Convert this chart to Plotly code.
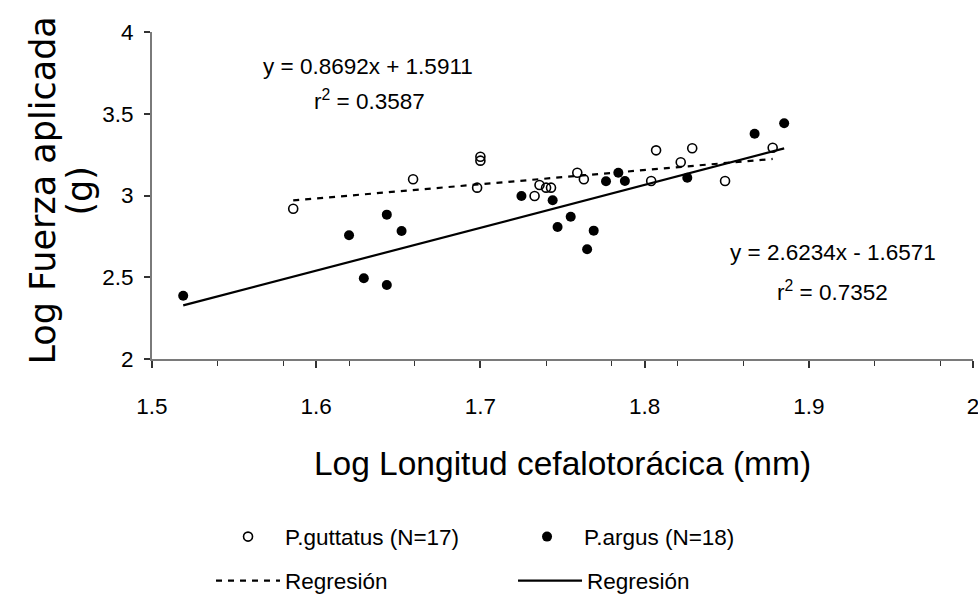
import plotly.graph_objects as go

# ---------------- data ----------------
gut_x = [1.586, 1.659, 1.698, 1.700, 1.700, 1.733, 1.736, 1.740, 1.743,
         1.759, 1.763, 1.804, 1.807, 1.822, 1.829, 1.849, 1.878]
gut_y = [2.919, 3.099, 3.048, 3.237, 3.213, 2.997, 3.064, 3.048, 3.048,
         3.139, 3.099, 3.089, 3.276, 3.203, 3.289, 3.089, 3.292]

arg_x = [1.519, 1.620, 1.629, 1.643, 1.643, 1.652, 1.725, 1.744, 1.747,
         1.755, 1.765, 1.769, 1.7765, 1.784, 1.788, 1.826, 1.867, 1.885]
arg_y = [2.387, 2.757, 2.494, 2.883, 2.453, 2.783, 2.997, 2.971, 2.807,
         2.870, 2.671, 2.785, 3.087, 3.139, 3.089, 3.109, 3.378, 3.442]

gut_slope, gut_intercept, gut_r2 = 0.8692, 1.5911, 0.3587
arg_slope, arg_intercept, arg_r2 = 2.6234, -1.6571, 0.7352

gut_name = "P.guttatus (N=17)"
arg_name = "P.argus (N=18)"
reg_name = "Regresión"

x_ticks = [1.5, 1.6, 1.7, 1.8, 1.9, 2.0]
x_tick_labels = ["1.5", "1.6", "1.7", "1.8", "1.9", "2"]
y_ticks = [2, 2.5, 3, 3.5, 4]
y_tick_labels = ["2", "2.5", "3", "3.5", "4"]

x_title = "Log Longitud cefalotorácica (mm)"
y_title_1 = "Log Fuerza aplicada"
y_title_2 = "(g)"

# ---------------- styling ----------------
SANS = "Liberation Sans, Arial, sans-serif"
WIDE = "DejaVu Sans, Liberation Sans, Arial, sans-serif"
FS = 22.5

gut_line_x = [min(gut_x), max(gut_x)]
gut_line_y = [gut_slope * v + gut_intercept for v in gut_line_x]
arg_line_x = [min(arg_x), max(arg_x)]
arg_line_y = [arg_slope * v + arg_intercept for v in arg_line_x]

fig = go.Figure()

fig.add_trace(go.Scatter(
    x=gut_line_x, y=gut_line_y, mode="lines", name=reg_name,
    line=dict(color="black", width=2.2, dash="6px,6px"),
    legend="legend2", showlegend=True, hoverinfo="skip"))
fig.add_trace(go.Scatter(
    x=arg_line_x, y=arg_line_y, mode="lines", name=reg_name,
    line=dict(color="black", width=2.2),
    legend="legend2", showlegend=True, hoverinfo="skip"))

fig.add_trace(go.Scatter(
    x=gut_x, y=gut_y, mode="markers", name=gut_name,
    marker=dict(symbol="circle-open", size=9, color="black",
                line=dict(width=1.6, color="black")),
    legend="legend"))
fig.add_trace(go.Scatter(
    x=arg_x, y=arg_y, mode="markers", name=arg_name,
    marker=dict(symbol="circle", size=10, color="black"),
    legend="legend"))

fig.update_layout(
    width=978, height=598,
    margin=dict(l=152, r=5, t=32, b=239, autoexpand=False),
    paper_bgcolor="white", plot_bgcolor="white",
    font=dict(family=SANS, size=FS, color="black"),
    legend=dict(
        orientation="h", x=0.0719, xanchor="left", y=-0.5443, yanchor="middle",
        itemwidth=64, entrywidth=220, entrywidthmode="pixels",
        font=dict(family=SANS, size=FS), bgcolor="rgba(0,0,0,0)",
        traceorder="normal"),
    legend2=dict(
        orientation="h", x=0.0719, xanchor="left", y=-0.679, yanchor="middle",
        itemwidth=64, entrywidth=223, entrywidthmode="pixels",
        font=dict(family=SANS, size=FS), bgcolor="rgba(0,0,0,0)",
        traceorder="normal"),
)

fig.update_xaxes(
    range=[1.5, 2.0], tickvals=x_ticks, ticktext=x_tick_labels,
    automargin=False,
    showgrid=False, zeroline=False,
    showline=True, linecolor="#7a7a7a", linewidth=2,
    ticks="outside", ticklen=7, tickwidth=1.5, tickcolor="#333333",
    minor=dict(tick0=1.5, dtick=0.04, ticks="outside", ticklen=5,
               tickwidth=1.2, tickcolor="#333333", showgrid=False),
    ticklabelstandoff=19, ticklabeloverflow="allow",
    tickfont=dict(family=SANS, size=FS),
    title=dict(text=x_title, font=dict(family=SANS, size=33.5), standoff=34),
)
fig.update_yaxes(
    range=[2, 4], tickvals=y_ticks, ticktext=y_tick_labels,
    automargin=False,
    showgrid=False, zeroline=False,
    showline=True, linecolor="#7a7a7a", linewidth=2,
    ticks="outside", ticklen=6, tickwidth=1.5, tickcolor="#333333",
    ticklabelstandoff=6, ticklabeloverflow="allow",
    tickfont=dict(family=SANS, size=FS),
)

# y-axis title (two lines, rotated)
fig.add_annotation(text=y_title_1, xref="paper", yref="paper",
                   x=-0.1328, y=0.515, xanchor="center", yanchor="middle",
                   textangle=-90, showarrow=False,
                   font=dict(family=WIDE, size=35, color="black"))
fig.add_annotation(text=y_title_2, xref="paper", yref="paper",
                   x=-0.0877, y=0.515, xanchor="center", yanchor="middle",
                   textangle=-90, showarrow=False,
                   font=dict(family=WIDE, size=35, color="black"))

# regression equations
fig.add_annotation(text=f"y = {gut_slope:.4f}x + {gut_intercept:.4f}",
                   x=1.6315, y=3.792, xref="x", yref="y", showarrow=False,
                   font=dict(family=SANS, size=FS))
fig.add_annotation(text=f"r<sup>2</sup> = {gut_r2:.4f}",
                   x=1.6325, y=3.585, xref="x", yref="y", showarrow=False,
                   font=dict(family=SANS, size=FS))
fig.add_annotation(text=f"y = {arg_slope:.4f}x - {abs(arg_intercept):.4f}",
                   x=1.9147, y=2.651, xref="x", yref="y", showarrow=False,
                   font=dict(family=SANS, size=FS))
fig.add_annotation(text=f"r<sup>2</sup> = {arg_r2:.4f}",
                   x=1.9147, y=2.413, xref="x", yref="y", showarrow=False,
                   font=dict(family=SANS, size=FS))

# remove the page's default 8px body margin so the 978x598 figure fills the window
fig.write_html("out.html",
               config={"displayModeBar": False},
               post_script="document.body.style.margin='0px';"
                           "document.body.style.overflow='hidden';")
